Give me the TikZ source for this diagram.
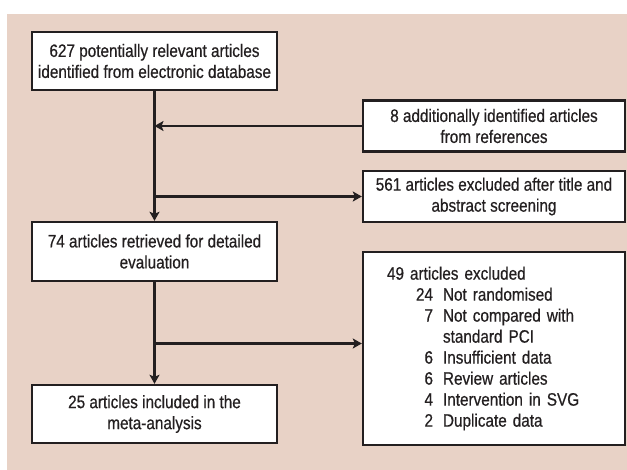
\documentclass[tikz,border=0pt]{standalone}
\usepackage{fontspec}
\setmainfont[FakeStretch=0.85,FakeBold=0.5]{Liberation Sans}
\usetikzlibrary{arrows.meta}
\definecolor{bgpink}{RGB}{232,210,198}
\definecolor{ink}{RGB}{35,31,32}
\newcommand{\exclrow}[2]{\makebox[46pt][r]{#1}\hspace{10pt}#2}
\begin{document}
\begin{tikzpicture}[x=1pt,y=-1pt,
  box/.style={rectangle,draw=ink,fill=white,line width=2.4pt,align=center,inner sep=0pt,text=ink,font=\fontsize{18}{21}\selectfont},
  arr/.style={-{Stealth[length=9pt,width=10pt,inset=2pt]},draw=ink,line width=2.4pt}]
\useasboundingbox (0,0) rectangle (627,470);
\fill[bgpink] (7,14) rectangle (627,470);
\node[box,minimum width=245pt,minimum height=58pt] (I) at (154.5,61) {627 potentially relevant articles\\identified from electronic database};
\node[box,minimum width=262pt,minimum height=51pt] (A) at (494,126) {8 additionally identified articles\\from references};
\node[box,minimum width=262pt,minimum height=51pt] (E) at (494,196.5) {561 articles excluded after title and\\abstract screening};
\node[box,minimum width=245pt,minimum height=59pt] (R) at (154.5,251.5) {74 articles retrieved for detailed\\evaluation};
\node[box,align=left,text width=214pt,inner xsep=24pt,minimum height=193pt] (X) at (494,348.5) {49 articles excluded\\\exclrow{24}{Not randomised}\\\exclrow{7}{Not compared with}\\\hspace*{56pt}standard PCI\\\exclrow{6}{Insufficient data}\\\exclrow{6}{Review articles}\\\exclrow{4}{Intervention in SVG}\\\exclrow{2}{Duplicate data}};
\node[box,minimum width=245pt,minimum height=58pt] (M) at (154.5,414) {25 articles included in the\\meta-analysis};
\draw[arr] (I) -- (R);
\draw[arr] (A.west) -- (A.west -| I.south);
\draw[arr] (E.west -| I.south) -- (E.west);
\draw[arr] (R) -- (M);
\draw[arr] ([yshift=5pt]X.west -| R.south) -- ([yshift=5pt]X.west);
\end{tikzpicture}
\end{document}
